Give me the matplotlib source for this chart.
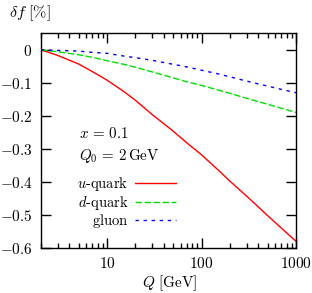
import matplotlib
matplotlib.use("Agg")
import matplotlib.pyplot as plt
from matplotlib.ticker import FixedLocator, FuncFormatter, LogLocator, NullFormatter

plt.rcParams["mathtext.fontset"] = "cm"
plt.rcParams["font.family"] = "serif"
plt.rcParams["font.serif"] = ["DejaVu Serif"]

# values
Q = [2, 3, 5, 7, 10, 15, 20, 30, 50, 70, 100, 150, 200, 300, 500, 700, 1000]
u_quark = [0, -0.017, -0.043, -0.066, -0.092, -0.126, -0.153, -0.196, -0.246,
           -0.282, -0.318, -0.364, -0.398, -0.443, -0.502, -0.540, -0.580]
d_quark = [0, -0.006, -0.015, -0.023, -0.033, -0.044, -0.053, -0.067, -0.085,
           -0.097, -0.108, -0.122, -0.132, -0.147, -0.165, -0.177, -0.190]
gluon = [0, -0.002, -0.004, -0.008, -0.011, -0.019, -0.024, -0.032, -0.044,
         -0.052, -0.062, -0.073, -0.082, -0.095, -0.110, -0.120, -0.130]
labels = [r"$u\mathrm{\text{-}quark}$", r"$d\mathrm{\text{-}quark}$", r"$\mathrm{gluon}$"]
yticks = [0, -0.1, -0.2, -0.3, -0.4, -0.5, -0.6]
xticks = [10, 100, 1000]

fig = plt.figure(figsize=(3.12, 2.93), dpi=100)
ax = fig.add_axes([0.131, 0.1536, 0.818, 0.733])

ax.plot(Q, u_quark, color="#ff0000", lw=1.0, label=labels[0])
ax.plot(Q, d_quark, color="#00e000", lw=1.0, dashes=(4.7, 1.8), label=labels[1])
ax.plot(Q, gluon, color="#0000ff", lw=1.0, dashes=(2.4, 3.4), label=labels[2])

ax.set_xscale("log")
ax.set_xlim(2, 1000)
ax.set_ylim(-0.6, 0.05)

ax.xaxis.set_major_locator(FixedLocator(xticks))
ax.xaxis.set_major_formatter(FuncFormatter(lambda v, p: r"$%d$" % v))
ax.xaxis.set_minor_locator(LogLocator(base=10, subs=range(2, 10)))
ax.xaxis.set_minor_formatter(NullFormatter())
ax.yaxis.set_major_locator(FixedLocator(yticks))
ax.yaxis.set_major_formatter(
    FuncFormatter(lambda v, p: r"$0$" if abs(v) < 1e-9 else r"$%.1f$" % v))

ax.tick_params(which="both", direction="in", top=True, right=True,
               labelsize=11, width=1.0, pad=6)
ax.tick_params(which="major", length=7)
ax.tick_params(which="minor", length=3.5)
for s in ax.spines.values():
    s.set_linewidth(1.0)

fig.text(0.03, 0.955, r"$\delta f\ [\%]$", fontsize=11.5, va="center", ha="left")
fig.text(0.545, 0.033, r"$Q\ [\mathrm{GeV}]$", fontsize=11, va="center", ha="center")

ax.text(0.149, 0.51, r"$x \,=\, 0.1$", transform=ax.transAxes, fontsize=10.8)
ax.text(0.149, 0.41, r"$Q_0 \,=\, 2\,\mathrm{GeV}$", transform=ax.transAxes, fontsize=10.8)

leg = ax.legend(loc="upper right", bbox_to_anchor=(0.53, 0.338), frameon=False,
                markerfirst=False, fontsize=10.5, handlelength=2.8,
                handletextpad=0.48, labelspacing=0.02, borderpad=0,
                borderaxespad=0)

fig.savefig("out.png", dpi=100)
